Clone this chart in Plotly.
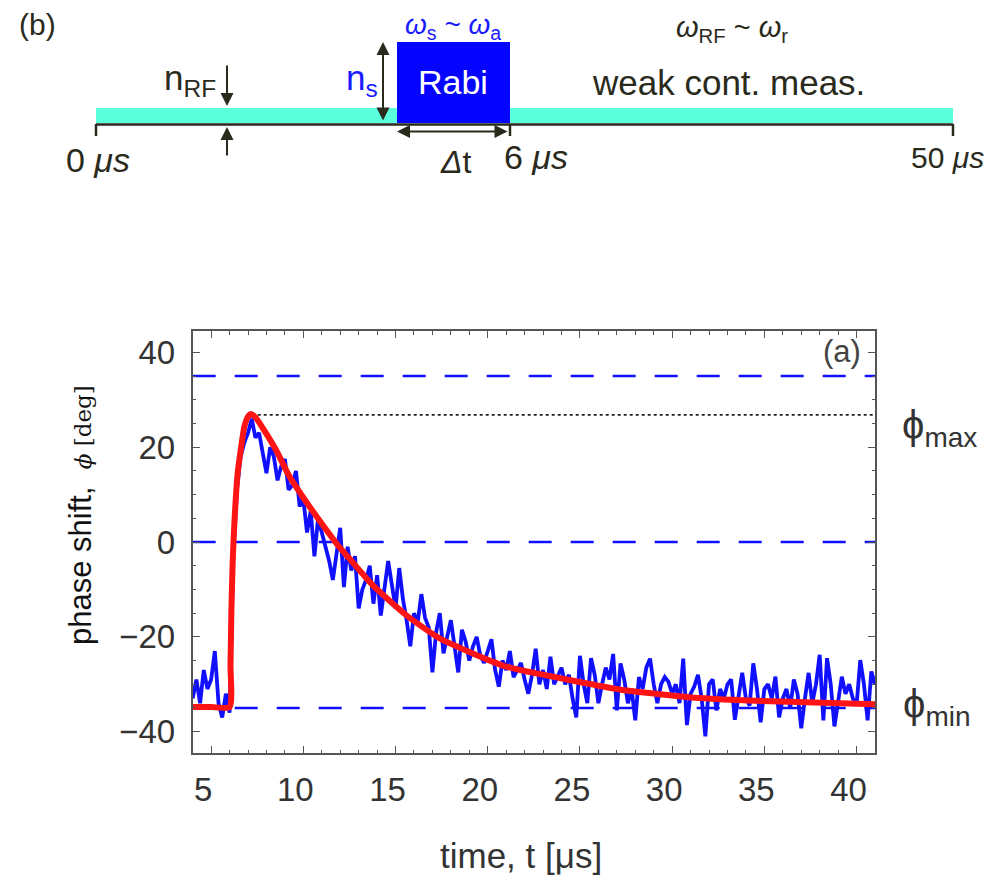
import plotly.graph_objects as go

# ---------------- data ----------------
t_start_us = 4.0
t_step_us = 0.2
phase_measured_deg = [
    -33, -29, -34, -27, -31, -29, -23, -34, -37, -32,
    -36, -3, 11, 18, 21, 23, 26, 22, 23, 19,
    14.5, 20, 18, 13, 16, 17.5, 11, 12, 15, 7.5,
    9, 2, 6.5, -3, 5, 2, -1, -4, -8, -3,
    3, -9.5, -1, -6, -3, -14, -10, -8, -5, -13,
    -7, -15.5, -10, -4, -9, -14, -5.5, -12, -16.5, -22,
    -15, -17, -11, -16, -18, -27.5, -19, -15, -23.5, -20,
    -16.5, -22, -27.5, -18.5, -21, -25, -22, -20, -24, -25.5,
    -23, -20.5, -27, -30.5, -25, -27, -23, -28.5, -27, -25.5,
    -29, -32, -28, -22.5, -30, -27, -31, -24.2, -30, -28,
    -26.5, -30, -28, -33, -37, -24, -30, -34, -24.5, -28,
    -34, -30, -26.5, -29, -23.6, -35.5, -25.6, -29, -34, -31,
    -37.6, -28.5, -31, -26.5, -24.6, -30, -34, -30, -28.5, -29.5,
    -32, -30, -34, -24.6, -38.6, -32, -30.5, -28, -33, -41,
    -30, -29, -35.5, -31, -33, -30, -29, -37.5, -32, -27.6,
    -33, -34.5, -25.6, -31, -38, -31, -30, -33, -28.4, -37,
    -33, -31, -35, -29, -32, -39.3, -33, -27.6, -34, -30,
    -23.8, -37.6, -24.5, -30, -38.9, -33, -28.4, -32, -30, -33,
    -34.5, -24.9, -30, -37.6, -27.3, -30,
]
t_measured_us = [round(t_start_us + t_step_us * i, 2) for i in range(len(phase_measured_deg))]

t_fit_us = [4.0, 5.0, 6.0, 6.05, 6.1, 6.17, 6.26, 6.44, 6.63, 6.8, 6.99, 7.17, 7.44,
            7.98, 8.52, 9.25, 10.15, 11.05, 11.96, 12.5, 13.76, 15.57, 17.38, 19.19,
            21.0, 22.0, 24.43, 27.14, 29.85, 31.5, 34.55, 38.17, 41.0]
phase_fit_deg = [-34.8, -34.8, -34.8, -26, -14, -4, 4, 14.6, 20.1, 24.3, 26.4, 27.0, 26.1,
                 22.9, 19.4, 13.8, 8.5, 3.6, -1.1, -3.5, -9.1, -15.4, -20.3, -23.5,
                 -26.3, -27.2, -29.1, -31.1, -32.3, -32.9, -33.5, -33.9, -34.2]

ref_levels_deg = [35, 0, -35]
phi_max_deg = 26.8
phi_max_t_us = 7.2
x_range = [4, 41]
y_range = [-44.5, 44.5]
x_ticks = [5, 10, 15, 20, 25, 30, 35, 40]
y_ticks = [-40, -20, 0, 20, 40]
y_ticktext = ["\u221240", "\u221220", "0", "20", "40"]

timeline_labels = ["0 <i>\u03bcs</i>", "6 <i>\u03bcs</i>", "50 <i>\u03bcs</i>"]

# ---------------- figure ----------------
PAGE_W, PAGE_H = 997, 881
OFF = 8                      # default page margin of the html body
W, H = PAGE_W - OFF, PAGE_H - OFF
BLUE = "#1010ff"
RED = "#ff1414"
DARK = "#2a2a1c"
AX = "#555555"
FONT = "Liberation Sans, Arial, sans-serif"


def PX(px):
    return (px - OFF) / W


def PY(py):
    return 1 - (py - OFF) / H


fig = go.Figure()

for lv in ref_levels_deg:
    fig.add_trace(go.Scatter(x=x_range, y=[lv, lv], mode="lines",
                             line=dict(color=BLUE, width=2.6, dash="23px,19px"),
                             hoverinfo="skip", showlegend=False))
fig.add_trace(go.Scatter(x=[phi_max_t_us, x_range[1]], y=[phi_max_deg, phi_max_deg], mode="lines",
                         line=dict(color="#222222", width=1.8, dash="3px,3px"),
                         hoverinfo="skip", showlegend=False))
fig.add_trace(go.Scatter(x=t_measured_us, y=phase_measured_deg, mode="lines",
                         line=dict(color=BLUE, width=3.8), showlegend=False))
fig.add_trace(go.Scatter(x=t_fit_us, y=phase_fit_deg, mode="lines",
                         line=dict(color=RED, width=6, shape="spline", smoothing=0.6),
                         showlegend=False))

fig.update_layout(
    width=W, height=H,
    margin=dict(l=0, r=0, t=0, b=0),
    paper_bgcolor="white", plot_bgcolor="white",
    font=dict(family=FONT, color="#333333"),
    xaxis=dict(domain=[PX(192.7), PX(875)], range=x_range, tickvals=x_ticks, ticks="inside",
               ticklen=7, tickwidth=1.2, tickcolor=AX, showline=True, linecolor=AX,
               linewidth=2, mirror="allticks", showgrid=False, zeroline=False,
               tickfont=dict(size=33, color="#333333"), ticklabelstandoff=6,
               ticklabelshift=-8,
               minor=dict(dtick=1, ticks="inside", ticklen=3.5, tickcolor=AX, showgrid=False)),
    yaxis=dict(domain=[PY(753), PY(331)], range=y_range, tickvals=y_ticks, ticktext=y_ticktext,
               ticks="inside", ticklen=7, tickwidth=1.2, tickcolor=AX, showline=True,
               linecolor=AX, linewidth=2, mirror="allticks", showgrid=False, zeroline=False,
               tickfont=dict(size=33, color="#333333"), ticklabelstandoff=9,
               minor=dict(dtick=5, tick0=0, ticks="inside", ticklen=3.5, tickcolor=AX, showgrid=False)),
    # schematic (b): page-pixel coordinate axes
    xaxis2=dict(domain=[0, 1], range=[OFF, PAGE_W], visible=False, anchor="y2"),
    yaxis2=dict(domain=[PY(194), 1], range=[194, OFF], visible=False, anchor="x2"),
)

ann = []


def txt(x, y, s, size, color=DARK, ref="paper", **kw):
    if ref == "paper":
        ann.append(dict(x=PX(x), y=PY(y), xref="paper", yref="paper", text=s,
                        showarrow=False, font=dict(size=size, color=color, family=FONT),
                        xanchor="center", yanchor="middle", **kw))
    else:
        ann.append(dict(x=x, y=y, xref="x2", yref="y2", text=s, showarrow=False,
                        font=dict(size=size, color=color, family=FONT),
                        xanchor="center", yanchor="middle", **kw))


# main plot texts
txt(521, 855, "time, t [\u03bcs]", 35, "#333333")
ann.append(dict(x=PX(80), y=PY(515), xref="paper", yref="paper",
                text="phase shift,  <span style='font-family:DejaVu Serif;font-size:23px'><i>\u03d5</i> [deg]</span>",
                showarrow=False, textangle=-90, font=dict(size=31, color="#111111", family=FONT),
                xanchor="center", yanchor="middle"))
txt(842, 352, "(a)", 31, "#444444")
txt(939, 428, "\u03d5<sub>max</sub>", 40, "#333333")
txt(937, 707, "\u03d5<sub>min</sub>", 40, "#333333")

# schematic shapes
shapes = [
    dict(type="rect", xref="x2", yref="y2", x0=96, x1=953, y0=108, y1=123,
         fillcolor="#5affdc", line=dict(width=0), layer="above"),
    dict(type="rect", xref="x2", yref="y2", x0=397, x1=510, y0=42, y1=123,
         fillcolor="#0505ff", line=dict(width=0), layer="above"),
    dict(type="line", xref="x2", yref="y2", x0=96, x1=953, y0=124.5, y1=124.5,
         line=dict(color=DARK, width=2.5), layer="above"),
]
for px in [96, 510, 953]:
    shapes.append(dict(type="line", xref="x2", yref="y2", x0=px, x1=px, y0=124, y1=136,
                       line=dict(color=DARK, width=2.5), layer="above"))
fig.update_layout(shapes=shapes)


def arrow(xh, yh, xt, yt, both=False):
    ann.append(dict(x=xh, y=yh, ax=xt, ay=yt, xref="x2", yref="y2", axref="x2", ayref="y2",
                    text="", showarrow=True, arrowhead=2, arrowsize=1.3, arrowwidth=2,
                    arrowcolor=DARK, arrowside="end+start" if both else "end", standoff=0,
                    startstandoff=0))


arrow(227, 106, 227, 64)
arrow(227, 127, 227, 157)
arrow(383, 42, 383, 122, both=True)
arrow(397, 131.5, 509, 131.5, both=True)

# schematic texts
txt(37, 24, "(b)", 30, DARK, ref="x2")
txt(453, 26, "<i>\u03c9</i><sub>s</sub> ~ <i>\u03c9</i><sub>a</sub>", 28, "#1a1aff", ref="x2")
txt(732, 29, "<i>\u03c9</i><sub>RF</sub> ~ <i>\u03c9</i><sub>r</sub>", 29, DARK, ref="x2")
txt(190, 80, "n<sub>RF</sub>", 35, DARK, ref="x2")
txt(362, 80, "n<sub>s</sub>", 35, "#1a1aff", ref="x2")
txt(453, 82, "Rabi", 34, "white", ref="x2")
txt(728, 82, "weak cont. meas.", 35, DARK, ref="x2")
for px, py, lab, sz in zip([98, 536, 947], [160, 157, 157], timeline_labels, [34, 34, 30]):
    txt(px, py, lab, sz, DARK, ref="x2")
txt(455, 162, "<i>\u0394</i>t", 32, DARK, ref="x2")

fig.update_layout(annotations=ann)
fig.write_html("out.html")
